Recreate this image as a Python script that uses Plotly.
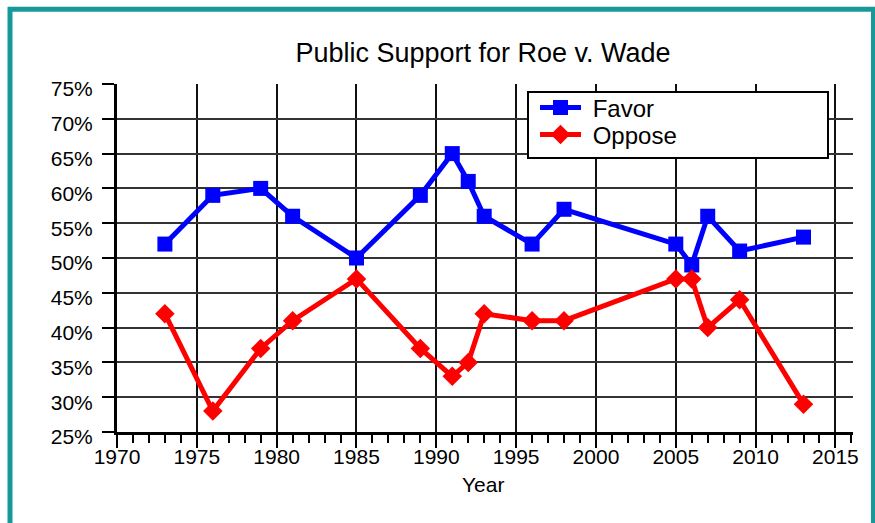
import plotly.graph_objects as go

years = [1973, 1976, 1979, 1981, 1985, 1989, 1991, 1992, 1993, 1996, 1998, 2005, 2006, 2007, 2009, 2013]
favor = [52, 59, 60, 56, 50, 59, 65, 61, 56, 52, 57, 52, 49, 56, 51, 53]
oppose = [42, 28, 37, 41, 47, 37, 33, 35, 42, 41, 41, 47, 47, 40, 44, 29]
y_ticks = [25, 30, 35, 40, 45, 50, 55, 60, 65, 70, 75]
y_labels = [f"{v}%" for v in y_ticks]
x_ticks = [1970, 1975, 1980, 1985, 1990, 1995, 2000, 2005, 2010, 2015]

W, H = 875, 523
L, R, T, B = 117, 22, 84, 91
pw, ph = W - L - R, H - T - B

def px(x):
    return (x - L) / pw

def py(y):
    return 1 - (y - T) / ph

FONT = "Liberation Sans, Arial, Helvetica, sans-serif"
NB = "\u00a0"

fig = go.Figure()
fig.add_trace(go.Scatter(
    x=years, y=favor, name=NB + "Favor", mode="lines+markers",
    line=dict(color="#0000ff", width=5),
    marker=dict(symbol="square", size=15, color="#0000ff"),
    legend="legend",
))
fig.add_trace(go.Scatter(
    x=years, y=oppose, name=NB + "Oppose", mode="lines+markers",
    line=dict(color="#ff0000", width=5),
    marker=dict(symbol="diamond", size=15, color="#ff0000"),
    legend="legend2",
))

# legend box
fig.add_shape(type="rect", xref="paper", yref="paper",
              x0=px(528), x1=px(828), y0=py(158), y1=py(92),
              line=dict(color="black", width=2), fillcolor="white", layer="above")
# teal frame
fig.add_shape(type="rect", xref="paper", yref="paper",
              x0=px(10), x1=px(873.5), y0=py(560), y1=py(9.3),
              line=dict(color="#17999b", width=5), fillcolor="rgba(0,0,0,0)", layer="above")

# x-axis title
fig.add_annotation(text="Year", xref="paper", yref="paper", x=px(483), y=py(484),
                   xanchor="center", yanchor="middle", showarrow=False,
                   font=dict(size=21, family=FONT, color="black"))

fig.update_layout(
    width=W, height=H,
    margin=dict(l=L, r=R, t=T, b=B, autoexpand=False),
    paper_bgcolor="white", plot_bgcolor="white",
    font=dict(family=FONT, color="black", size=21),
    title=dict(text="Public Support for Roe v. Wade", x=483 / W, xanchor="center",
               y=1 - 53 / H, yanchor="middle", yref="container",
               font=dict(size=27, family=FONT, color="black")),
    legend=dict(x=px(535), y=py(108), xanchor="left", yanchor="middle",
                bgcolor="rgba(0,0,0,0)", borderwidth=0,
                font=dict(size=24, family=FONT, color="black"), itemwidth=41),
    legend2=dict(x=px(535), y=py(135), xanchor="left", yanchor="middle",
                 bgcolor="rgba(0,0,0,0)", borderwidth=0,
                 font=dict(size=24, family=FONT, color="black"), itemwidth=41),
    showlegend=True,
)

fig.update_xaxes(
    range=[1970, 2016.1], tickvals=x_ticks, ticks="outside", ticklen=13, tickwidth=2,
    tickcolor="black", showline=True, linecolor="black", linewidth=3,
    showgrid=True, gridcolor="#111111", gridwidth=1.5, zeroline=False,
    minor=dict(dtick=1, tick0=1970, ticks="outside", ticklen=8, tickwidth=1.5,
               tickcolor="black", showgrid=False),
    tickfont=dict(size=21, family=FONT, color="black"), ticklabelstandoff=-9,
)
fig.update_yaxes(
    range=[25, 75], tickvals=y_ticks, ticktext=y_labels, ticks="outside", ticklen=12,
    tickwidth=2, tickcolor="black", showline=True, linecolor="black", linewidth=3,
    showgrid=True, gridcolor="#333333", gridwidth=1.5, zeroline=False,
    tickfont=dict(size=21, family=FONT, color="black"), ticklabelstandoff=5,
    ticklabelshift=5,
)

fig.write_html("out.html", config={"displayModeBar": False},
               post_script="document.body.style.margin='0px';")
